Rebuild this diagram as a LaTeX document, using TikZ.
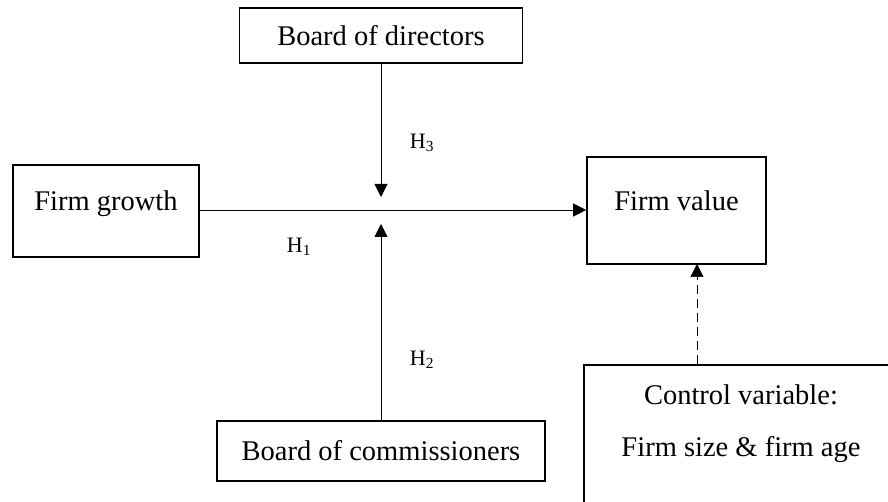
\documentclass[tikz,border=0pt]{standalone}
\usepackage{fontspec}
\setmainfont{Liberation Serif}
\usetikzlibrary{arrows.meta,positioning}

\begin{document}
\begin{tikzpicture}[x=1pt, y=-1pt,
    varbox/.style={rectangle, draw, line width=1.6pt, font=\fontsize{28.5}{34}\selectfont},
    link/.style={-{Triangle[length=13pt,width=13pt]}, line width=0.9pt},
    hyp/.style={font=\fontsize{22}{26}\selectfont}]
    \useasboundingbox (0,0) rectangle (888,502);
    \clip (0,0) rectangle (888,502);
    \node[varbox, minimum width=283, minimum height=55] (directors) at (381,35.5) {Board of directors};
    \node[varbox, minimum width=186, minimum height=92, text height=20pt, text depth=20pt] (growth) at (106,211) {Firm growth};
    \node[varbox, minimum width=179, minimum height=107, text height=20pt, text depth=20pt] (value) at (676.5,210.5) {Firm value};
    \node[varbox, minimum width=328, minimum height=60] (commissioners) at (381,451) {Board of commissioners};
    \node[varbox, anchor=north west, minimum width=316, minimum height=200] (control) at (583,364) {};
    \node[font=\fontsize{28.5}{34}\selectfont, align=center, anchor=north] (controltext) at (741,381) {Control variable:\\[18pt] Firm size \& firm age};

    \coordinate (mid) at (381,210);
    \coordinate (dashtop) at (697,264);
    \draw[link] (growth.east |- mid) -- (value.west |- mid);
    \draw[link] (directors.south) -- ([yshift=13pt]mid);
    \draw[link] (commissioners.north -| mid) -- ([yshift=-14pt]mid);
    \draw[link, dashed, dash pattern=on 9pt off 5pt, line width=0.7pt] (control.north -| dashtop) -- (dashtop);

    \node[hyp] (h3) at (422,143) {H\textsubscript{3}};
    \node[hyp] (h1) at (299,247) {H\textsubscript{1}};
    \node[hyp] (h2) at (422,360) {H\textsubscript{2}};
\end{tikzpicture}
\end{document}
